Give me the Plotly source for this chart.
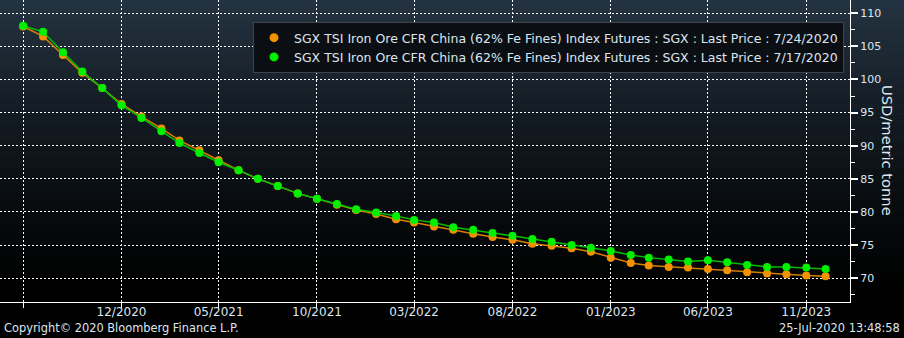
import plotly.graph_objects as go

contract_months = [
    "2020-07-01", "2020-08-01", "2020-09-01", "2020-10-01", "2020-11-01", "2020-12-01",
    "2021-01-01", "2021-02-01", "2021-03-01", "2021-04-01", "2021-05-01", "2021-06-01",
    "2021-07-01", "2021-08-01", "2021-09-01", "2021-10-01", "2021-11-01", "2021-12-01",
    "2022-01-01", "2022-02-01", "2022-03-01", "2022-04-01", "2022-05-01", "2022-06-01",
    "2022-07-01", "2022-08-01", "2022-09-01", "2022-10-01", "2022-11-01", "2022-12-01",
    "2023-01-01", "2023-02-01", "2023-03-01", "2023-04-01", "2023-05-01", "2023-06-01",
    "2023-07-01", "2023-08-01", "2023-09-01", "2023-10-01", "2023-11-01", "2023-12-01",
]

price_0724 = [
    108.0, 106.5, 103.7, 101.0, 98.7, 96.3, 94.4, 92.6, 90.8, 89.3, 87.8, 86.3,
    85.0, 83.9, 82.8, 82.0, 81.1, 80.3, 79.7, 78.9, 78.4, 77.8, 77.3, 76.7,
    76.2, 75.8, 75.2, 74.9, 74.5, 74.0, 73.1, 72.3, 71.9, 71.7, 71.6, 71.4,
    71.2, 70.9, 70.7, 70.6, 70.4, 70.3,
]

price_0717 = [
    108.1, 107.2, 104.1, 101.2, 98.7, 96.1, 94.2, 92.2, 90.4, 88.9, 87.5, 86.3,
    85.0, 83.9, 82.8, 82.0, 81.2, 80.4, 79.9, 79.4, 78.8, 78.4, 77.7, 77.3,
    76.8, 76.4, 75.9, 75.5, 75.0, 74.6, 74.1, 73.5, 73.1, 72.8, 72.5, 72.7,
    72.4, 72.0, 71.7, 71.7, 71.6, 71.4,
]

x_tickvals = ["2020-07-01", "2020-12-01", "2021-05-01", "2021-10-01", "2022-03-01",
              "2022-08-01", "2023-01-01", "2023-06-01", "2023-11-01"]
x_ticktext = ["", "12/2020", "05/2021", "10/2021", "03/2022",
              "08/2022", "01/2023", "06/2023", "11/2023"]
y_tickvals = [70, 75, 80, 85, 90, 95, 100, 105, 110]

name_a = "SGX TSI Iron Ore CFR China (62% Fe Fines) Index Futures : SGX : Last Price : 7/24/2020"
name_b = "SGX TSI Iron Ore CFR China (62% Fe Fines) Index Futures : SGX : Last Price : 7/17/2020"

ORANGE = "#f39200"
ORANGE_LINE = "#d97f00"
GREEN = "#00f000"
GREEN_LINE = "#00c000"
TXT = "#dde6ee"
FONT = "DejaVu Sans"

W, H = 904, 338
ML, MR, MT, MB = 0, 54, 0, 36
PW = W - ML - MR
PH = H - MT - MB

fig = go.Figure()
fig.add_trace(go.Scatter(x=contract_months, y=price_0724, mode="lines+markers",
                         line=dict(color=ORANGE_LINE, width=1.5),
                         marker=dict(color=ORANGE, size=8), showlegend=False))
fig.add_trace(go.Scatter(x=contract_months, y=price_0717, mode="lines+markers",
                         line=dict(color=GREEN_LINE, width=1.5),
                         marker=dict(color=GREEN, size=8), showlegend=False))
# legend entries (markers only)
fig.add_trace(go.Scatter(x=[None], y=[None], mode="markers", name=name_a,
                         marker=dict(color=ORANGE, size=9)))
fig.add_trace(go.Scatter(x=[None], y=[None], mode="markers", name=name_b,
                         marker=dict(color=GREEN, size=9)))

# background gradient stripes (decoration)
shapes = []
N = 76
top = (36, 51, 65)
for i in range(N):
    f0 = i / N
    f1 = (i + 1) / N
    t = f0
    c = tuple(int(round(top[k] * (1 - t) ** 1.3)) for k in range(3))
    shapes.append(dict(type="rect", xref="paper", yref="paper",
                       x0=0, x1=W / PW, y0=1 - f1 - 0.002, y1=1 - f0,
                       fillcolor="rgb(%d,%d,%d)" % c, line=dict(width=0), layer="below"))

fig.update_layout(
    width=W, height=H,
    margin=dict(l=ML, r=MR, t=MT, b=MB),
    paper_bgcolor="black",
    plot_bgcolor="rgba(0,0,0,0)",
    font=dict(family=FONT, size=12, color=TXT),
    shapes=shapes,
    showlegend=True,
    legend=dict(x=253 / PW, y=1 - 22 / PH, xanchor="left", yanchor="top",
                bgcolor="#0b0f14", bordercolor="#3d434a", borderwidth=1,
                font=dict(family=FONT, size=12.5, color=TXT),
                itemwidth=30, tracegroupgap=0),
    xaxis=dict(type="date", range=["2020-05-26", "2024-01-08"],
               tickvals=x_tickvals, ticktext=x_ticktext,
               showgrid=True, gridcolor="white", gridwidth=1, griddash="2px,2px",
               showline=True, linecolor="white", linewidth=1,
               ticks="outside", ticklen=5, tickcolor="white", tickwidth=1,
               ticklabelstandoff=-6,
               tickfont=dict(family=FONT, size=12, color=TXT), zeroline=False),
    yaxis=dict(side="right", range=[66.4, 112.0], tickvals=y_tickvals,
               showgrid=True, gridcolor="white", gridwidth=1, griddash="2px,2px",
               showline=True, linecolor="white", linewidth=1,
               ticks="outside", ticklen=7, tickcolor="white", tickwidth=2,
               minor=dict(ticks="outside", ticklen=4, tickcolor="white", tickwidth=1,
                          dtick=2.5, tick0=67.5, showgrid=False),
               tickfont=dict(family=FONT, size=11, color=TXT), zeroline=False),
    annotations=[
        dict(text="USD/metric tonne", xref="paper", yref="paper",
             x=888 / PW, y=(PH - 150) / PH, textangle=90, showarrow=False,
             font=dict(family=FONT, size=14.7, color=TXT), xanchor="center", yanchor="middle"),
        dict(text="Copyright\u00a9 2020 Bloomberg Finance L.P.", xref="paper", yref="paper",
             x=2 / PW, y=(PH - 328) / PH, xanchor="left", yanchor="middle", showarrow=False,
             font=dict(family=FONT, size=11.4, color=TXT)),
        dict(text="25-Jul-2020 13:48:58", xref="paper", yref="paper",
             x=902 / PW, y=(PH - 328) / PH, xanchor="right", yanchor="middle", showarrow=False,
             font=dict(family=FONT, size=11.4, color=TXT)),
    ],
)

fig.write_html("out.html")
